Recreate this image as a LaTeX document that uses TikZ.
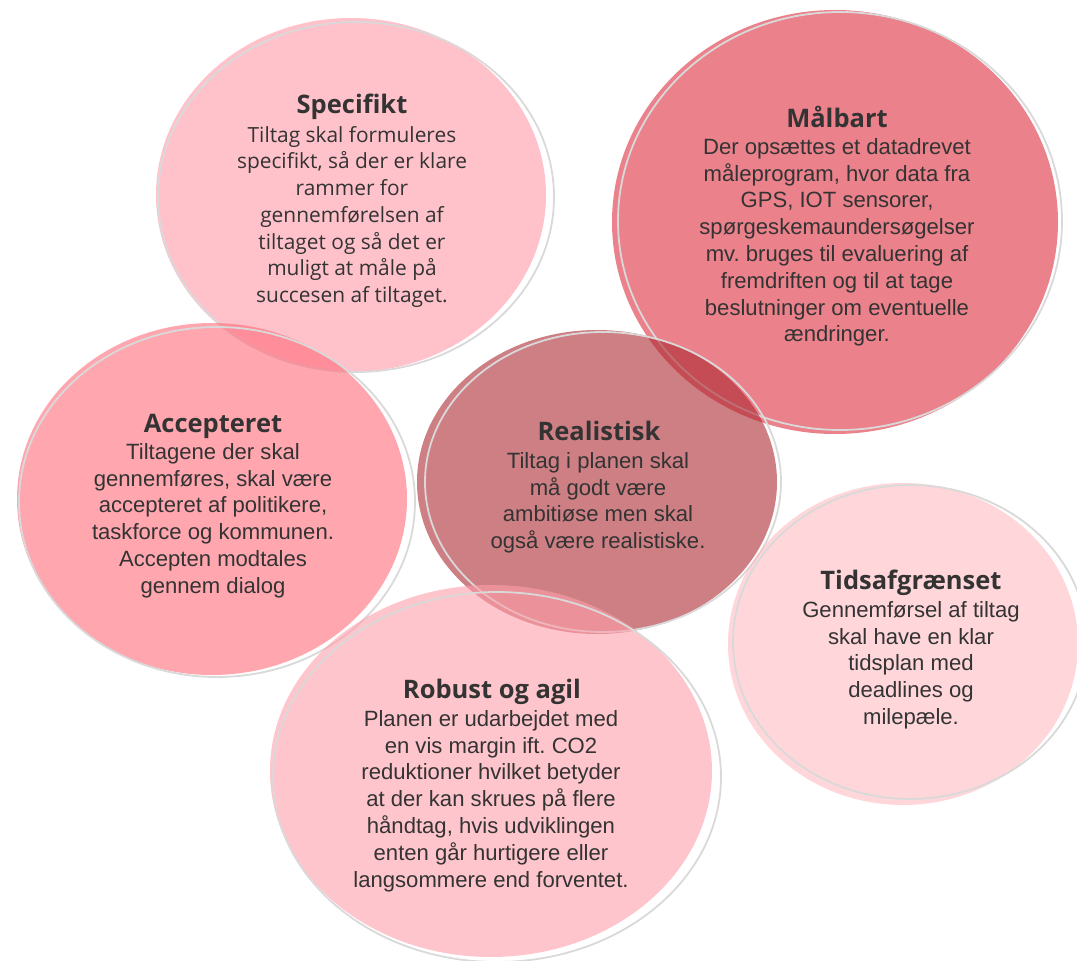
\documentclass[tikz,border=0pt]{standalone}
\usepackage{fontspec}
\setmainfont{Liberation Sans}
\newfontfamily\ttlfont{Open Sans}
\newfontfamily\segfont{Open Sans}
\frenchspacing
\definecolor{txt}{RGB}{51,51,51}
\definecolor{outl}{RGB}{217,217,217}
\definecolor{cSpec}{RGB}{255,153,168}
\definecolor{cMaal}{RGB}{222,45,60}
\definecolor{cAcc}{RGB}{255,107,122}
\definecolor{cReal}{RGB}{172,42,50}
\definecolor{cTid}{RGB}{255,187,193}
\definecolor{cRob}{RGB}{255,158,170}
\tikzset{
  bubble/.style={fill opacity=0.6},
  ring/.style={draw=outl, line width=1.8pt},
  ttl/.style={anchor=base, inner sep=0pt, text=txt, font=\ttlfont\bfseries\fontsize{25.5}{29}\selectfont},
  bodytxt/.style={anchor=north, inner sep=0pt, align=center, text=txt, font=\frenchspacing\fontsize{22.1}{26.8}\selectfont},
  segtxt/.style={anchor=north, inner sep=0pt, align=center, text=txt, font=\frenchspacing\segfont\fontsize{20.9}{26.7}\selectfont}
}
\newcommand{\fl}{\rule{0pt}{17pt}}
\begin{document}
\begin{tikzpicture}[x=1pt,y=-1pt]
\useasboundingbox (0,0) rectangle (1077,961);
% Specifikt
\fill[cSpec,bubble] (351,195) ellipse [x radius=195pt, y radius=177pt];
\draw[ring] (356,197) ellipse [x radius=198pt, y radius=175pt];
% Maalbart
\fill[cMaal,bubble] (835,222) ellipse [x radius=223pt, y radius=212pt];
\draw[ring] (840,221) ellipse [x radius=222pt, y radius=209pt];
% Accepteret
\fill[cAcc,bubble] (212,499) ellipse [x radius=195pt, y radius=176pt];
\draw[ring] (217,502) ellipse [x radius=198pt, y radius=175pt];
% Realistisk
\fill[cReal,bubble] (597,482) ellipse [x radius=180pt, y radius=152pt];
\draw[ring] (603,482) ellipse [x radius=178pt, y radius=150pt];
% Tidsafgraenset
\fill[cTid,bubble] (903,644) ellipse [x radius=175pt, y radius=161pt];
\draw[ring] (910,642) ellipse [x radius=177pt, y radius=157pt];
% Robust
\fill[cRob,bubble] (491,771) ellipse [x radius=221pt, y radius=186pt];
\draw[ring] (497,777) ellipse [x radius=224pt, y radius=185pt];

\node[ttl] (t1) at (352,113) {Specifikt};
\node[segtxt] (b1) at (352,125) {\fl Tiltag skal formuleres\\specifikt, så der er klare\\rammer for\\gennemførelsen af\\tiltaget og så det er\\muligt at måle på\\succesen af tiltaget.};

\node[ttl] (t2) at (837,127) {Målbart};
\node[bodytxt] (b2) at (837,137) {\fl Der opsættes et datadrevet\\måleprogram, hvor data fra\\GPS, IOT sensorer,\\spørgeskemaundersøgelser\\mv. bruges til evaluering af\\fremdriften og til at tage\\beslutninger om eventuelle\\ændringer.};

\node[ttl] (t3) at (213,432) {Accepteret};
\node[bodytxt] (b3) at (213,442) {\fl Tiltagene der skal\\gennemføres, skal være\\accepteret af politikere,\\taskforce og kommunen.\\Accepten modtales\\gennem dialog};

\node[ttl] (t4) at (599,440) {Realistisk};
\node[bodytxt] (b4) at (598,451) {\fl Tiltag i planen skal\\må godt være\\ambitiøse men skal\\også være realistiske.};

\node[ttl] (t5) at (911,589) {Tidsafgrænset};
\node[bodytxt] (b5) at (911,600) {\fl Gennemførsel af tiltag\\skal have en klar\\tidsplan med\\deadlines og\\milepæle.};

\node[ttl] (t6) at (492,698) {Robust og agil};
\node[bodytxt] (b6) at (491,709) {\fl Planen er udarbejdet med\\en vis margin ift. CO2\\reduktioner hvilket betyder\\at der kan skrues på flere\\håndtag, hvis udviklingen\\enten går hurtigere eller\\langsommere end forventet.};
\end{tikzpicture}
\end{document}
